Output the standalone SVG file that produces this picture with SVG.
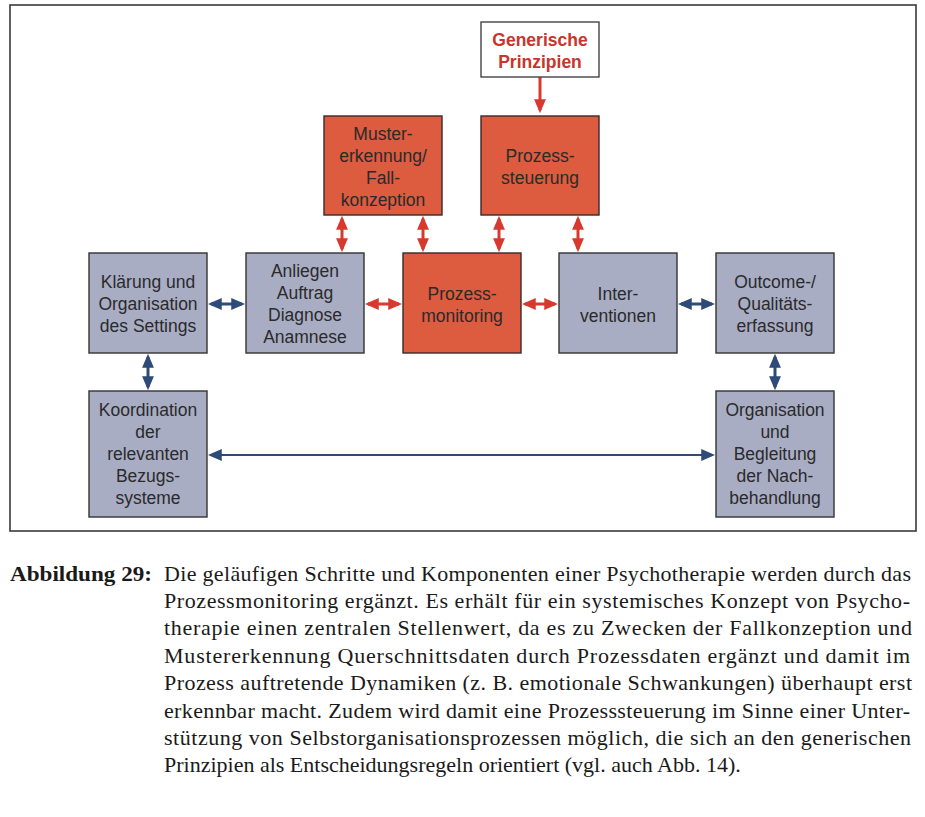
<svg xmlns="http://www.w3.org/2000/svg" width="925" height="817" viewBox="0 0 925 817">
<defs>
<style>
.frame{fill:#fff;stroke:#3a3a3a;stroke-width:1.6}
.rbox{fill:#dd5b3f;stroke:#3a2a28;stroke-width:1.4}
.gbox{fill:#a9adc4;stroke:#333;stroke-width:1.4}
.wbox{fill:#fff;stroke:#444;stroke-width:1.4}
.t{font-family:"Liberation Sans",Arial,sans-serif;font-size:17.5px;fill:#2a2a2a;text-anchor:middle}
.tr{font-family:"Liberation Sans",Arial,sans-serif;font-size:17.5px;font-weight:bold;fill:#c9342c;text-anchor:middle}
.cap{font-family:"Liberation Serif","Times New Roman",serif;font-size:22px;fill:#1a1a1a}
.capb{font-family:"Liberation Serif","Times New Roman",serif;font-size:22px;font-weight:bold;fill:#1a1a1a}
.ra{stroke:#d8392f;stroke-width:3;fill:none}
.ba{stroke:#2d4a78;stroke-width:3;fill:none}
.bl{stroke:#2d4a78;stroke-width:2;fill:none}
</style>
<marker id="mr" markerUnits="userSpaceOnUse" markerWidth="14" markerHeight="12" refX="10" refY="5.5" orient="auto-start-reverse" viewBox="0 0 13 11">
<path d="M0,0 L13,5.5 L0,11 z" fill="#d8392f"/>
</marker>
<marker id="mb" markerUnits="userSpaceOnUse" markerWidth="14" markerHeight="12" refX="10" refY="5.5" orient="auto-start-reverse" viewBox="0 0 13 11">
<path d="M0,0 L13,5.5 L0,11 z" fill="#2d4a78"/>
</marker>
</defs>
<rect width="925" height="817" fill="#fff"/>
<rect class="frame" x="10" y="5" width="906" height="526"/>

<g id="connectors">
<line class="ra" x1="540" y1="77" x2="540" y2="110" marker-end="url(#mr)"/>
<line class="ra" x1="342" y1="219" x2="342" y2="249" marker-start="url(#mr)" marker-end="url(#mr)"/>
<line class="ra" x1="423" y1="219" x2="423" y2="249" marker-start="url(#mr)" marker-end="url(#mr)"/>
<line class="ra" x1="499" y1="219" x2="499" y2="249" marker-start="url(#mr)" marker-end="url(#mr)"/>
<line class="ra" x1="578" y1="219" x2="578" y2="249" marker-start="url(#mr)" marker-end="url(#mr)"/>
<line class="ra" x1="368" y1="304" x2="399" y2="304" marker-start="url(#mr)" marker-end="url(#mr)"/>
<line class="ra" x1="525" y1="304" x2="555" y2="304" marker-start="url(#mr)" marker-end="url(#mr)"/>
<line class="ba" x1="211" y1="304" x2="242" y2="304" marker-start="url(#mb)" marker-end="url(#mb)"/>
<line class="ba" x1="681" y1="304" x2="712" y2="304" marker-start="url(#mb)" marker-end="url(#mb)"/>
<line class="ba" x1="148" y1="357" x2="148" y2="387" marker-start="url(#mb)" marker-end="url(#mb)"/>
<line class="ba" x1="775" y1="357" x2="775" y2="387" marker-start="url(#mb)" marker-end="url(#mb)"/>
<line class="bl" x1="211" y1="455" x2="712" y2="455" marker-start="url(#mb)" marker-end="url(#mb)"/>
</g>

<g id="generische">
<rect class="wbox" x="481" y="22" width="118" height="55"/>
<text class="tr" x="540" y="46">Generische</text>
<text class="tr" x="540" y="68">Prinzipien</text>
</g>
<g id="muster">
<rect class="rbox" x="324" y="116" width="118" height="99"/>
<text class="t" x="383" y="140">Muster-</text>
<text class="t" x="383" y="162">erkennung/</text>
<text class="t" x="383" y="184">Fall-</text>
<text class="t" x="383" y="206">konzeption</text>
</g>
<g id="steuerung">
<rect class="rbox" x="481" y="116" width="118" height="99"/>
<text class="t" x="540" y="162">Prozess-</text>
<text class="t" x="540" y="184">steuerung</text>
</g>
<g id="klaerung">
<rect class="gbox" x="89" y="253" width="118" height="100"/>
<text class="t" x="148" y="288">Klärung und</text>
<text class="t" x="148" y="310">Organisation</text>
<text class="t" x="148" y="332">des Settings</text>
</g>
<g id="anliegen">
<rect class="gbox" x="246" y="253" width="118" height="100"/>
<text class="t" x="305" y="277">Anliegen</text>
<text class="t" x="305" y="299">Auftrag</text>
<text class="t" x="305" y="321">Diagnose</text>
<text class="t" x="305" y="343">Anamnese</text>
</g>
<g id="monitoring">
<rect class="rbox" x="403" y="253" width="118" height="100"/>
<text class="t" x="462" y="300">Prozess-</text>
<text class="t" x="462" y="322">monitoring</text>
</g>
<g id="interventionen">
<rect class="gbox" x="559" y="253" width="118" height="100"/>
<text class="t" x="618" y="300">Inter-</text>
<text class="t" x="618" y="322">ventionen</text>
</g>
<g id="outcome">
<rect class="gbox" x="716" y="253" width="118" height="100"/>
<text class="t" x="775" y="288">Outcome-/</text>
<text class="t" x="775" y="310">Qualitäts-</text>
<text class="t" x="775" y="332">erfassung</text>
</g>
<g id="koordination">
<rect class="gbox" x="89" y="391" width="118" height="126"/>
<text class="t" x="148" y="416">Koordination</text>
<text class="t" x="148" y="438">der</text>
<text class="t" x="148" y="460">relevanten</text>
<text class="t" x="148" y="482">Bezugs-</text>
<text class="t" x="148" y="504">systeme</text>
</g>
<g id="nachbehandlung">
<rect class="gbox" x="716" y="391" width="118" height="126"/>
<text class="t" x="775" y="416">Organisation</text>
<text class="t" x="775" y="438">und</text>
<text class="t" x="775" y="460">Begleitung</text>
<text class="t" x="775" y="482">der Nach-</text>
<text class="t" x="775" y="504">behandlung</text>
</g>

<g id="caption">
<text class="capb" x="10" y="581" textLength="142" lengthAdjust="spacingAndGlyphs">Abbildung 29:</text>
<text class="cap" x="164" y="581" textLength="747" lengthAdjust="spacing">Die geläufigen Schritte und Komponenten einer Psychotherapie werden durch das</text>
<text class="cap" x="164" y="608" textLength="746" lengthAdjust="spacing">Prozessmonitoring ergänzt. Es erhält für ein systemisches Konzept von Psycho-</text>
<text class="cap" x="164" y="635" textLength="748" lengthAdjust="spacing">therapie einen zentralen Stellenwert, da es zu Zwecken der Fallkonzeption und</text>
<text class="cap" x="164" y="663" textLength="746" lengthAdjust="spacing">Mustererkennung Querschnittsdaten durch Prozessdaten ergänzt und damit im</text>
<text class="cap" x="164" y="690" textLength="748" lengthAdjust="spacing">Prozess auftretende Dynamiken (z. B. emotionale Schwankungen) überhaupt erst</text>
<text class="cap" x="164" y="718" textLength="746" lengthAdjust="spacing">erkennbar macht. Zudem wird damit eine Prozesssteuerung im Sinne einer Unter-</text>
<text class="cap" x="164" y="745" textLength="747" lengthAdjust="spacing">stützung von Selbstorganisationsprozessen möglich, die sich an den generischen</text>
<text class="cap" x="164" y="772">Prinzipien als Entscheidungsregeln orientiert (vgl. auch Abb. 14).</text>
</g>
</svg>
